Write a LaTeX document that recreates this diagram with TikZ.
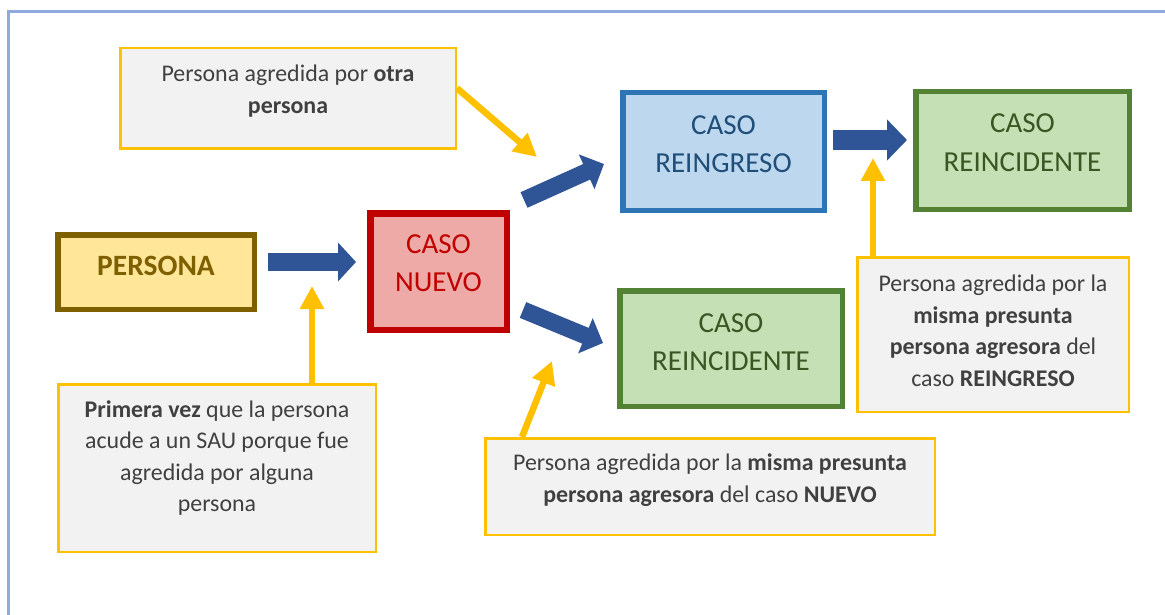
\documentclass[tikz,border=0pt]{standalone}
\usepackage{fontspec}
\setmainfont{Carlito}
\usetikzlibrary{arrows.meta,calc}
\definecolor{framecol}{HTML}{8FAADC}
\definecolor{yel}{HTML}{FFC000}
\definecolor{grayfill}{HTML}{F2F2F2}
\definecolor{txtgray}{HTML}{404040}
\definecolor{perborder}{HTML}{7F6000}
\definecolor{perfill}{HTML}{FFE699}
\definecolor{redb}{HTML}{C00000}
\definecolor{redfill}{HTML}{EDAAA6}
\definecolor{blueb}{HTML}{2E75B6}
\definecolor{bluefill}{HTML}{BDD7EE}
\definecolor{bluetxt}{HTML}{1F4E79}
\definecolor{greenb}{HTML}{548235}
\definecolor{greenfill}{HTML}{C5E0B4}
\definecolor{greentxt}{HTML}{385723}
\definecolor{arrblue}{HTML}{2F5597}
\tikzset{
  notebox/.style={draw=yel, fill=grayfill, line width=2.5pt, inner sep=0pt},
  casebox/.style={line width=5.5pt, inner sep=0pt},
  smalltxt/.style={text=txtgray, align=center, inner sep=0pt,
    font=\fontsize{23.9}{31.5}\selectfont},
  bigtxt/.style={align=center, inner sep=0pt,
    font=\fontsize{29}{38.5}\selectfont},
  blockarrow/.style={draw=arrblue, line width=#1},
  blockarrow/.default=18pt,
  yelarrow/.style={draw=yel, line width=6.5pt,
    -{Triangle[length=23pt,width=23pt]}},
}
\begin{document}
\begin{tikzpicture}[x=1pt,y=-1pt]
\useasboundingbox (0,0) rectangle (1165,615);
\fill[white] (0,0) rectangle (1165,615);
% frame
\draw[framecol, line width=2.2pt] (8.5,615) -- (8.5,11.5) -- (1165,11.5);

% boxes
\node[notebox, minimum width=335.5pt, minimum height=100.5pt] (otra) at (288,98.5) {};
\node[smalltxt] (otratxt) at ($(otra.center)+(0,-7.5)$) {Persona agredida por \textbf{otra}\\\textbf{persona}};

\node[casebox, draw=perborder, fill=perfill, minimum width=196.5pt, minimum height=74.5pt] (persona) at (156,272) {};
\node[bigtxt, text=perborder, font=\fontsize{29.5}{38.5}\selectfont] (personatxt) at ($(persona.center)+(0,-6)$) {\textbf{PERSONA}};

\node[casebox, line width=6.5pt, draw=redb, fill=redfill, minimum width=136.5pt, minimum height=116.5pt] (nuevo) at (438.5,271.5) {};
\node[bigtxt, text=redb] (nuevotxt) at ($(nuevo.center)+(0,-8.5)$) {CASO\\NUEVO};

\node[casebox, draw=blueb, fill=bluefill, minimum width=201.5pt, minimum height=117.5pt] (reingreso) at (723.5,151.5) {};
\node[bigtxt, text=bluetxt] (reingresotxt) at ($(reingreso.center)+(0,-7.5)$) {CASO\\REINGRESO};

\node[casebox, draw=greenb, fill=greenfill, minimum width=213.5pt, minimum height=117.5pt] (reincA) at (1022.5,150.5) {};
\node[bigtxt, text=greentxt] (reincAtxt) at ($(reincA.center)+(0,-8)$) {CASO\\REINCIDENTE};

\node[casebox, draw=greenb, fill=greenfill, minimum width=222.5pt, minimum height=115.5pt] (reincB) at (731,348.5) {};
\node[bigtxt, text=greentxt] (reincBtxt) at ($(reincB.center)+(0,-6.5)$) {CASO\\REINCIDENTE};

\node[notebox, minimum width=271.5pt, minimum height=154.5pt] (notereing) at (993,334.5) {};
\node[smalltxt] (notereingtxt) at ($(notereing.center)+(0,-3.5)$) {Persona agredida por la\\\textbf{misma presunta}\\\textbf{persona agresora} del\\caso \textbf{REINGRESO}};

\node[notebox, minimum width=317.5pt, minimum height=167.5pt] (primera) at (217,468) {};
\node[smalltxt] (primeratxt) at ($(primera.center)+(0,-10)$) {\textbf{Primera vez} que la persona\\acude a un SAU porque fue\\agredida por alguna\\persona};

\node[notebox, minimum width=449.5pt, minimum height=96.5pt] (notenuevo) at (710,486.5) {};
\node[smalltxt] (notenuevotxt) at ($(notenuevo.center)+(0,-6.5)$) {Persona agredida por la \textbf{misma presunta}\\\textbf{persona agresora} del caso \textbf{NUEVO}};

% blue block arrows
\draw[blockarrow=18pt, -{Triangle[length=18pt,width=38pt]}] ($(persona.east)+(11,-10)$) -- ($(nuevo.west)+(-11,-9.5)$);
\draw[blockarrow=17pt, -{Triangle[length=19pt,width=37pt]}] ($(nuevo.north east)+(14,-10)$) -- ($(reingreso.west)+(-16,12.5)$);
\draw[blockarrow=17pt, -{Triangle[length=19pt,width=37pt]}] ($(nuevo.south east)+(13,-23)$) -- ($(reincB.west)+(-14,-5.5)$);
\draw[blockarrow=20pt, -{Triangle[length=20pt,width=40pt]}] ($(reingreso.east)+(6,-11.5)$) -- ($(reincA.west)+(-6,-10.5)$);

% yellow arrows
\coordinate (tipA) at (537,157);
\coordinate (tipB) at (312,286);
\coordinate (tipC) at (552,361);
\coordinate (tipD) at (873,158);
\draw[yelarrow] ($(otra.north east)!0.4!(otra.south east)$) -- (tipA);
\draw[yelarrow] (primera.north -| tipB) -- (tipB);
\draw[yelarrow] ($(notenuevo.north west)+(38,0)$) -- (tipC);
\draw[yelarrow] (notereing.north -| tipD) -- (tipD);
\end{tikzpicture}
\end{document}
